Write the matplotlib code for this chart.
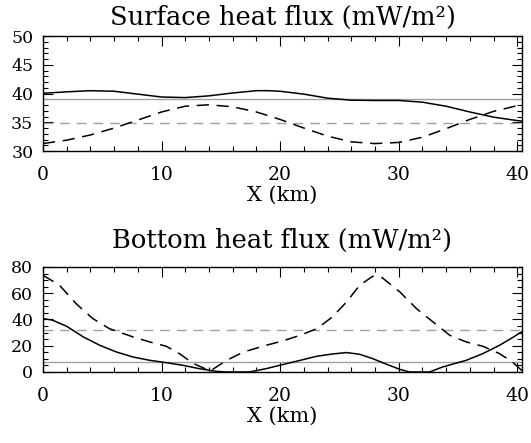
import matplotlib
matplotlib.use("Agg")
import matplotlib.pyplot as plt
from matplotlib.ticker import MultipleLocator

# surface heat flux (mW/m^2) along X (km)
surf_x = [0, 2, 4, 6, 8, 10, 12, 14, 16, 18, 19, 20, 22, 24, 26, 28, 30, 32, 34, 36, 38, 40, 40.4]
surf_model = [40.05, 40.3, 40.5, 40.4, 39.9, 39.4, 39.3, 39.6, 40.1, 40.5, 40.5, 40.4,
              39.9, 39.2, 38.85, 38.8, 38.8, 38.5, 37.8, 36.8, 35.9, 35.3, 35.2]
surf_obs_x = [0, 2, 4, 6, 8, 10, 12, 14, 16, 18, 20, 22, 24, 26, 28, 30, 32, 34, 36, 38, 40.4]
surf_obs = [31.3, 31.9, 32.8, 34.0, 35.4, 36.8, 37.8, 38.05, 37.7, 36.8, 35.5, 34.0,
            32.6, 31.6, 31.3, 31.5, 32.4, 33.9, 35.5, 36.9, 38.1]
surf_mean_model = 39.0
surf_mean_obs = 34.8

# bottom heat flux
bot_x = [0, 0.8, 2.0, 3.4, 4.8, 6.2, 7.6, 9.0, 10.4, 11.8, 13.2, 14.6, 15.5, 17.4, 18.8,
         20.2, 21.7, 23.1, 24.4, 25.6, 26.7, 27.8, 29.0, 30.1, 30.9, 32.6, 33.7, 35.7,
         37.1, 38.5, 39.6, 40.4]
bot_model = [40.7, 39.5, 34.8, 26.7, 20.3, 15.2, 11.4, 8.9, 7.1, 5.1, 2.5, 0.5, 0, 0, 2.5,
             5.6, 8.9, 12.0, 13.7, 14.8, 13.5, 10.2, 5.8, 2.0, 0, 0, 3.8, 8.9,
             14.0, 20.3, 26.2, 30.8]
bot_obs_x = [0, 1.4, 2.8, 4.2, 5.6, 7.6, 9.0, 10.4, 11.5, 12.7, 14.1, 15.5, 16.9, 18.8,
             20.2, 21.7, 23.1, 24.4, 25.6, 26.7, 27.8, 28.6, 30.1, 31.5, 32.9, 34.3,
             35.7, 37.1, 38.5, 39.6, 40.4]
bot_obs = [73.7, 66, 52, 40.7, 33, 26.7, 22.9, 19.6, 14, 6.4, 0.8, 8.9, 15.2, 20.3,
           23.6, 28, 33, 41.9, 53.3, 66, 72.9, 71.9, 61, 48.3, 38.1, 28,
           22.9, 19.6, 14, 7.6, 1.0]
bot_mean_model = 7.6
bot_mean_obs = 31.8

SERIF = "DejaVu Serif"
GRAY = "#a0a0a0"


def style_axis(ax, ymin, ymax, ymajor, yminor):
    ax.set_xlim(0, 40.4)
    ax.set_ylim(ymin, ymax)
    ax.xaxis.set_major_locator(MultipleLocator(10))
    ax.xaxis.set_minor_locator(MultipleLocator(2))
    ax.yaxis.set_major_locator(MultipleLocator(ymajor))
    ax.yaxis.set_minor_locator(MultipleLocator(yminor))
    ax.tick_params(which="both", direction="in", top=True, right=True, width=0.8)
    ax.tick_params(which="major", length=7)
    ax.tick_params(which="minor", length=3.5)
    ax.tick_params(axis="x", pad=11, labelsize=13.5)
    ax.tick_params(axis="y", pad=7, labelsize=12.5)
    for sp in ax.spines.values():
        sp.set_linewidth(1.0)
    ax.set_xlabel("X (km)", fontsize=15, family=SERIF, labelpad=1)
    for lab in ax.get_xticklabels() + ax.get_yticklabels():
        lab.set_family(SERIF)
    labs = ax.get_yticklabels()
    labs[0].set_verticalalignment("bottom")
    labs[-1].set_verticalalignment("top")


fig = plt.figure(figsize=(5.31, 4.43), dpi=100)

ax1 = fig.add_axes([0.081, 0.659, 0.902, 0.2596])
ax1.axhline(surf_mean_model, color=GRAY, lw=1.0)
ax1.axhline(surf_mean_obs, color=GRAY, lw=1.0, ls=(0, (7, 5)))
ax1.plot(surf_x, surf_model, color="black", lw=1.1)
ax1.plot(surf_obs_x, surf_obs, color="black", lw=1.1, ls=(0, (8, 5)))
ax1.set_yticks([30, 35, 40, 45, 50])
style_axis(ax1, 30, 50, 5, 1)
ax1.set_title("Surface heat flux (mW/m²)", fontsize=18.5, family=SERIF, pad=8)

ax2 = fig.add_axes([0.081, 0.1603, 0.902, 0.237])
ax2.axhline(bot_mean_model, color=GRAY, lw=1.0)
ax2.axhline(bot_mean_obs, color=GRAY, lw=1.0, ls=(0, (7, 5)))
ax2.plot(bot_x, bot_model, color="black", lw=1.1)
ax2.plot(bot_obs_x, bot_obs, color="black", lw=1.1, ls=(0, (8, 5)))
ax2.set_yticks([0, 20, 40, 60, 80])
style_axis(ax2, 0, 80, 20, 5)
ax2.set_title("Bottom heat flux (mW/m²)", fontsize=18.5, family=SERIF, pad=14)

fig.savefig("out.png", dpi=100)
